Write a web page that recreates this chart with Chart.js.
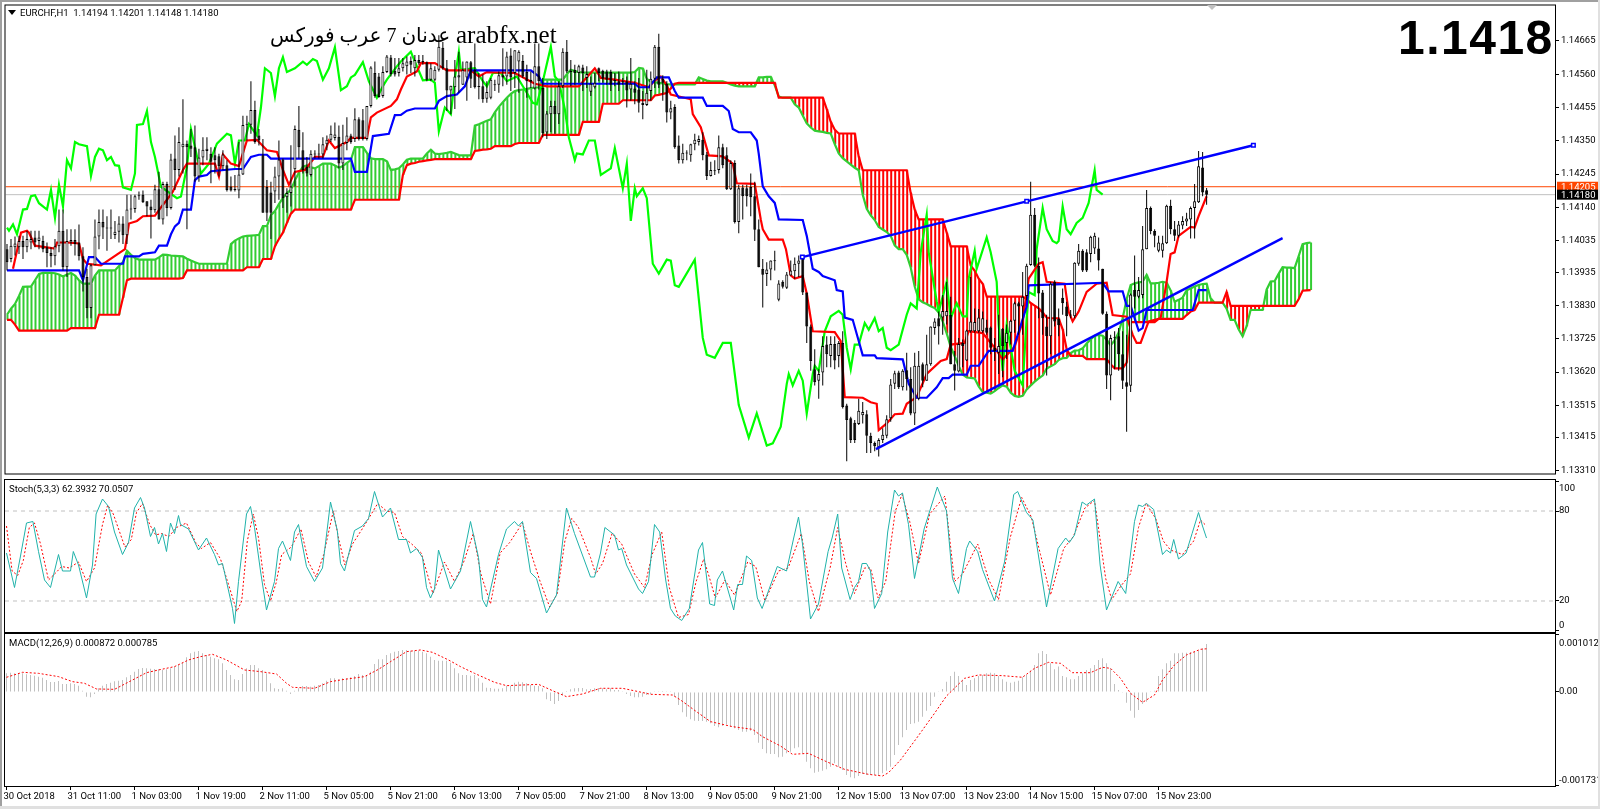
<!DOCTYPE html>
<html lang="en">
<head>
<meta charset="UTF-8">
<title>EURCHF,H1</title>
<script src="https://cdn.jsdelivr.net/npm/chart.js"></script>
<style>
  html, body { margin: 0; padding: 0; background: #fff; }
  body { width: 1600px; height: 809px; position: relative; overflow: hidden; }
  canvas { position: absolute; left: 0; }
  .txt { position: absolute; white-space: pre; color: #000; font: 9.5px Roboto, sans-serif; }
  .chrome { position: absolute; background: #a0a0a0; }
</style>
</head>
<body>
<canvas id="mainChart" width="1600" height="479" style="top:0"></canvas>
<canvas id="stochChart" width="1600" height="154" style="top:479px"></canvas>
<canvas id="macdChart" width="1600" height="176" style="top:633px"></canvas>

<div class="chrome" style="left:0;top:0;width:1600px;height:2px"></div>
<div class="chrome" style="left:0;top:0;width:2px;height:809px"></div>
<div class="chrome" style="left:1598px;top:0;width:2px;height:809px;background:#e0e0e0"></div>
<div class="chrome" style="left:0;top:806px;width:1600px;height:3px;background:#e0e0e0"></div>

<div style="position:absolute;left:8px;top:10px;width:0;height:0;border-left:4px solid transparent;border-right:4px solid transparent;border-top:5px solid #000"></div>
<div class="txt" style="left:20px;top:7px">EURCHF,H1  1.14194 1.14201 1.14148 1.14180</div>
<div class="txt" style="left:270px;top:23px;font:20px 'Liberation Serif','DejaVu Sans',serif" dir="ltr">عدنان 7 عرب فوركس</div>
<div class="txt" style="left:456px;top:21px;font:25px 'Liberation Serif',serif">arabfx.net</div>
<div class="txt" style="left:1398px;top:10px;font:bold 48px 'Liberation Sans',sans-serif;letter-spacing:1.5px">1.1418</div>
<div style="position:absolute;left:1207px;top:5px;width:0;height:0;border-left:5px solid transparent;border-right:5px solid transparent;border-top:5px solid #c0c0c0"></div>
<div class="txt" style="left:9px;top:483px">Stoch(5,3,3) 62.3932 70.0507</div>
<div class="txt" style="left:9px;top:637px">MACD(12,26,9) 0.000872 0.000785</div>

<script>
// prices are stored as points above 1.13000 (1180 = 1.14180)
const BASE = 1.13;

const openPts = [
1008,977,1014,1014,1034,1014,1029,1045,1034,1034,
1014,996,986,1017,1066,951,1029,1037,1029,986,
920,822,957,1048,1094,1076,1073,1053,1063,1089,
1052,1133,1135,1175,1180,1159,1143,1131,1197,1102,
1214,1138,1294,1258,1330,1341,1335,1330,1237,1297,
1318,1309,1304,1301,1270,1273,1206,1195,1193,1244,
1401,1401,1447,1367,1304,1204,1187,1190,1237,1291,
1172,1185,1260,1385,1320,1268,1242,1307,1307,1307,
1339,1353,1359,1363,1278,1343,1367,1356,1418,1415,
1356,1460,1564,1553,1491,1567,1613,1571,1564,1579,
1585,1602,1579,1605,1602,1598,1543,1543,1574,1644,
1579,1509,1519,1550,1527,1550,1598,1574,1522,1522,
1483,1486,1525,1527,1557,1553,1619,1564,1600,1602,
1567,1543,1515,1585,1517,1376,1434,1460,1434,1522,
1631,1571,1574,1564,1581,1548,1505,1519,1579,1571,
1569,1567,1543,1538,1538,1538,1512,1515,1512,1470,
1463,1507,1546,1647,1546,1530,1439,1457,1335,1289,
1312,1304,1339,1346,1353,1307,1239,1256,1258,1330,
1304,1197,1280,1094,1203,1200,1204,1175,1071,946,
930,944,972,848,905,886,925,938,962,977,
871,764,629,593,619,707,671,709,671,712,
515,474,460,456,484,487,419,396,383,406,
419,474,583,619,572,626,598,489,536,645,
593,645,759,790,792,796,801,645,622,712,
657,749,749,749,749,761,761,697,681,757,
712,744,782,837,827,860,958,1117,956,871,
764,733,905,788,855,827,801,796,962,1003,
998,993,1010,1010,946,804,609,727,733,676,
588,577,879,858,863,1008,1138,1065,1003,1003,
1027,1145,1071,1050,1083,1095,1102,1138,1156,1266,
1194];
const highPts = [
1024,1040,1048,1050,1050,1066,1066,1066,1066,1050,
1029,1014,1040,1133,1133,1071,1071,1071,1086,1014,
946,962,1102,1133,1133,1112,1133,1097,1112,1112,
1180,1180,1180,1190,1193,1159,1164,1211,1252,1221,
1221,1309,1367,1393,1481,1351,1387,1398,1325,1361,
1361,1330,1330,1309,1320,1289,1237,1242,1346,1429,
1429,1538,1476,1387,1356,1226,1221,1268,1351,1294,
1200,1336,1398,1460,1377,1299,1320,1320,1341,1361,
1367,1398,1408,1398,1401,1424,1372,1453,1424,1450,
1460,1585,1600,1564,1585,1621,1621,1611,1611,1611,
1616,1616,1621,1621,1621,1600,1595,1585,1683,1662,
1605,1524,1605,1631,1600,1600,1602,1657,1564,1559,
1538,1548,1543,1569,1642,1631,1642,1636,1636,1621,
1590,1569,1657,1657,1548,1444,1476,1476,1538,1642,
1668,1605,1590,1590,1590,1585,1553,1564,1581,1574,
1574,1574,1564,1569,1548,1553,1611,1538,1548,1507,
1574,1569,1652,1688,1557,1538,1476,1465,1367,1341,
1320,1341,1372,1367,1377,1315,1284,1289,1367,1341,
1330,1289,1289,1211,1211,1211,1247,1221,1102,977,
967,972,1003,910,910,936,972,982,988,988,
871,770,692,629,733,733,733,733,718,749,
520,479,469,536,526,500,429,401,411,443,
484,598,624,624,629,681,635,681,687,650,
738,764,790,811,863,905,858,687,728,723,
754,920,821,819,811,785,764,728,801,759,
770,785,842,842,936,962,1221,1138,982,879,
801,905,910,821,884,842,816,967,1024,1008,
1008,1050,1060,1045,946,811,738,749,759,749,
738,868,988,920,1081,1195,1143,1071,1050,1050,
1148,1164,1097,1097,1112,1123,1143,1214,1318,1315,
1201];
const lowPts = [
941,967,988,993,977,998,1008,1014,1008,998,
951,951,957,998,941,920,1019,988,972,874,
790,790,957,1008,1040,1003,1040,1040,1029,1024,
1024,1102,1123,1164,1154,1112,1042,1123,1102,1086,
1112,1133,1195,1237,1247,1071,1299,1221,1221,1273,
1289,1216,1247,1237,1258,1190,1190,1190,1169,1242,
1351,1372,1341,1335,1123,1097,1040,1154,1164,1138,
1123,1143,1206,1294,1247,1237,1237,1294,1294,1294,
1320,1346,1351,1263,1258,1320,1341,1346,1351,1351,
1351,1455,1486,1486,1486,1564,1553,1553,1553,1569,
1559,1564,1553,1590,1590,1538,1538,1538,1569,1574,
1444,1434,1450,1502,1527,1476,1517,1515,1481,1470,
1470,1481,1507,1502,1522,1527,1507,1517,1502,1548,
1486,1517,1512,1512,1361,1356,1377,1372,1403,1517,
1564,1522,1527,1533,1507,1517,1491,1515,1538,1533,
1527,1507,1522,1507,1527,1455,1476,1465,1439,1418,
1460,1476,1517,1517,1476,1408,1418,1325,1278,1278,
1289,1284,1320,1335,1289,1226,1237,1242,1247,1263,
1195,1195,1089,1058,1102,1143,1112,1034,951,824,
892,910,941,844,884,882,925,915,920,863,
712,624,578,536,578,635,635,629,635,505,
339,396,396,453,458,365,365,370,354,396,
411,463,567,567,562,562,484,453,531,572,
593,640,738,707,738,770,645,562,619,635,
655,744,744,744,744,738,676,655,614,604,
661,707,744,738,738,847,956,951,790,738,
609,676,764,733,801,733,790,790,956,936,
936,967,993,941,801,567,531,629,624,567,
432,557,821,853,853,1008,1055,1014,998,982,
1024,1055,1034,1045,1071,1081,1042,1042,1154,1175,
1148];
const closePts = [
967,1019,1026,1034,1014,1040,1040,1029,1045,1008,
996,986,1017,1066,951,1034,1037,1024,986,920,
822,957,1048,1094,1076,1073,1076,1063,1089,1052,
1133,1135,1175,1177,1156,1143,1131,1197,1102,1214,
1138,1291,1258,1346,1341,1330,1325,1237,1297,1322,
1325,1284,1289,1270,1307,1195,1193,1197,1244,1400,
1403,1447,1346,1351,1123,1123,1123,1237,1291,1169,
1185,1206,1387,1330,1258,1247,1309,1309,1309,1339,
1353,1372,1370,1278,1343,1367,1346,1418,1356,1356,
1460,1581,1491,1488,1567,1616,1561,1559,1579,1595,
1600,1590,1605,1595,1598,1543,1579,1574,1647,1579,
1509,1524,1553,1557,1574,1600,1546,1519,1520,1481,
1504,1543,1527,1557,1550,1616,1550,1636,1631,1553,
1538,1536,1585,1538,1374,1436,1460,1434,1522,1631,
1569,1567,1564,1585,1564,1561,1530,1533,1564,1546,
1543,1527,1538,1527,1536,1509,1530,1502,1470,1463,
1502,1546,1647,1527,1533,1439,1453,1330,1289,1312,
1310,1339,1353,1356,1304,1239,1258,1254,1330,1273,
1197,1280,1094,1200,1175,1175,1172,1069,951,927,
944,972,970,900,889,928,941,962,972,871,
764,655,588,614,702,676,709,657,712,510,
469,406,406,498,494,419,396,386,406,422,
471,581,616,572,624,598,489,640,640,593,
645,764,780,764,813,813,645,624,709,702,
751,780,778,792,790,744,697,687,702,702,
744,782,837,827,858,956,1117,956,868,790,
733,899,780,768,837,796,799,965,1003,941,
941,1047,1050,972,804,609,728,729,676,593,
574,865,858,879,1008,1138,1065,1050,1029,1027,
1145,1071,1050,1086,1097,1105,1138,1159,1270,1187,
1180];

// ichimoku cloud, one value per bar incl. the 26 bars shifted ahead
const senkouA = [
801,820,835,860,889,890,890,910,930,933,
933,933,932,928,922,928,933,925,910,899,
899,899,925,941,941,941,941,941,955,967,
1003,990,980,975,975,975,975,975,982,991,
990,988,987,986,985,978,972,967,962,962,
962,962,962,962,962,962,1024,1035,1042,1048,
1050,1051,1052,1053,1081,1081,1115,1128,1150,1170,
1185,1195,1225,1250,1268,1272,1266,1263,1270,1278,
1278,1278,1272,1265,1270,1280,1289,1330,1330,1330,
1312,1295,1292,1292,1292,1285,1258,1260,1263,1275,
1290,1294,1294,1294,1294,1310,1322,1310,1308,1310,
1312,1315,1310,1305,1304,1304,1304,1398,1402,1408,
1413,1418,1440,1457,1472,1486,1498,1507,1510,1512,
1514,1516,1518,1519,1543,1543,1543,1543,1543,1543,
1560,1574,1570,1567,1565,1565,1565,1565,1565,1565,
1565,1565,1565,1565,1565,1565,1565,1567,1580,1578,
1545,1537,1535,1533,1531,1529,1528,1528,1528,1528,
1528,1528,1528,1550,1545,1540,1538,1538,1538,1538,
1533,1528,1524,1522,1522,1522,1522,1522,1550,1550,
1552,1552,1525,1490,1486,1486,1486,1465,1455,1430,
1405,1392,1382,1380,1378,1375,1373,1340,1310,1295,
1285,1275,1265,1257,1180,1135,1115,1100,1078,1070,
1062,1050,1020,1008,1008,990,950,890,850,840,
835,828,822,808,780,742,700,670,640,612,
603,602,600,575,557,555,552,560,570,578,
574,555,545,542,545,565,578,590,600,609,
631,638,645,658,664,665,680,688,689,695,
710,723,735,737,735,722,704,720,745,790,
850,895,900,903,905,927,900,900,902,905,
902,878,842,848,855,878,884,890,895,898,
899,853,839,839,839,820,785,785,755,733,
765,816,816,816,816,880,906,907,930,951,
950,950,948,985,1024,1027,1029];
const senkouB = [
785,785,770,751,751,751,751,751,751,751,
751,751,751,751,751,751,759,759,759,759,
759,759,759,801,801,801,801,801,801,855,
910,915,915,915,915,915,915,915,915,915,
915,915,915,915,917,941,941,941,941,941,
941,941,941,941,941,941,941,941,941,941,
951,951,951,951,977,977,977,1017,1040,1060,
1091,1120,1133,1133,1133,1133,1133,1133,1133,1133,
1133,1133,1133,1133,1133,1133,1133,1164,1164,1164,
1164,1164,1164,1164,1164,1164,1164,1164,1164,1242,
1273,1278,1280,1284,1286,1288,1290,1292,1292,1292,
1292,1292,1292,1292,1292,1292,1292,1318,1320,1322,
1323,1325,1333,1333,1333,1333,1333,1340,1343,1343,
1343,1343,1343,1343,1369,1369,1369,1369,1369,1369,
1369,1369,1369,1369,1410,1410,1410,1410,1410,1467,
1467,1467,1467,1467,1478,1478,1478,1478,1478,1478,
1478,1478,1493,1495,1498,1501,1515,1530,1533,1533,
1533,1533,1533,1533,1533,1533,1533,1533,1533,1533,
1533,1533,1533,1533,1533,1533,1533,1533,1533,1533,
1533,1533,1533,1486,1486,1486,1486,1486,1486,1486,
1486,1486,1486,1486,1486,1450,1410,1385,1373,1373,
1373,1373,1373,1300,1257,1257,1257,1257,1257,1257,
1257,1257,1257,1257,1257,1257,1185,1133,1102,1102,
1102,1102,1102,1102,1102,1060,1017,1017,1017,1017,
1017,956,940,915,899,858,858,858,858,858,
858,858,858,858,858,850,838,830,821,808,
792,790,790,790,755,692,671,671,671,671,
661,661,661,661,661,661,645,632,632,632,
650,778,778,778,778,778,778,778,788,788,
788,788,788,788,788,800,811,816,839,839,
839,839,839,839,839,873,829,829,829,829,
829,829,829,829,829,829,829,829,829,829,
829,829,829,850,877,878,879];

// ichimoku lines, read as vertices: bar index / points
const tenkanX = [1.5,3.5,5,5.5,7,12,12.5,15,18,19,20,23.5,29.5,30.5,32.5,34,37,38.5,40,41.5,44,45,52,53,54,56,58,60,62.5,65,67.5,69,70.5,72,74.5,77,79,80.5,82,85,86,90,91,92.5,96,97.5,98.5,100,102.5,103.5,107,110,116,118,120,127,132,135,143,147,148.5,152,157,160.5,162,163.5,165,166,171,171.5,173.5,175.5,179,181.5,182.5,187,188.5,189,190.5,194,194.8,196,197,199,200,201.5,207,208.5,209.5,214,216,217.5,218,220,222,224,225,227.5,230,233.5,235,236,239.5,240.5,244,247,249,252,254,255.5,258,259,260,264.5,265.5,266.5,268,270,272.5,275,276.5,280,281.5,282.5,283.5,285.5,288.5,290,291,292,293,296,297,298,300];
const tenkanY = [946,1060,1066,1060,1019,1010,1029,1029,1026,977,962,957,1008,1089,1097,1112,1114,1140,1164,1190,1258,1278,1278,1237,1307,1278,1270,1351,1353,1320,1315,1258,1211,1252,1258,1299,1299,1351,1327,1346,1359,1359,1424,1439,1460,1481,1512,1553,1569,1595,1595,1572,1572,1553,1567,1564,1530,1522,1522,1579,1548,1543,1533,1519,1540,1553,1525,1496,1481,1434,1393,1304,1301,1278,1216,1214,1102,1071,1038,1038,1008,925,915,923,868,749,746,718,541,539,525,520,437,458,487,489,520,541,614,655,661,707,712,749,743,697,660,700,780,915,962,967,905,899,811,780,811,873,899,902,800,795,738,712,712,780,790,905,993,998,1050,1078,1076,1112,1175,1182];
const kijunX = [0,18,19,20.5,22,23.5,29,29.5,33,34,37,38,40,41,42,43,44,46,47,48,50,51,57,59,61,63,65,66,86,87,90,91.5,95.5,97,98.5,100,102,107,108,110,112.5,114.5,116,131,133,134,157,158,160.5,162.5,165.5,167,168,174,175,179,180.5,181.5,183,186,187.5,188,189,190.5,192,193,199,200,201.5,203,204,207,207.5,209,209.5,211.5,213,214,217,217.5,224,225.5,227.5,230,232.5,234,235.5,236.5,240,241,243,245.5,251.5,255,255.5,274,275.5,279,280,281,283,284,285,296.5,298,300];
const kijunY = [941,941,910,983,983,962,962,985,985,993,998,1019,1019,1055,1080,1091,1133,1133,1226,1237,1242,1254,1261,1261,1299,1306,1306,1294,1294,1252,1252,1365,1372,1431,1432,1445,1452,1452,1476,1491,1496,1522,1572,1572,1553,1530,1530,1519,1519,1550,1550,1507,1486,1486,1460,1460,1444,1387,1377,1377,1351,1309,1206,1175,1154,1102,1100,1050,946,936,923,910,879,875,792,785,718,673,673,664,660,583,539,539,572,601,601,612,612,640,640,687,687,827,894,902,875,875,829,829,751,759,816,816,879,879];
const chikouX = [0,0.5,1.5,2.5,4,5,6,7,8,10,11,12,13,14,15,16,17,18,20,21,22,23,24,25,26,27,28,29,31,32,32.5,34,35,36,37,38.5,42.5,43.5,45,46,47,48.5,50.5,52.5,55,56,57,58,59.5,60.5,62.5,63.5,64.5,66,67,68,69,70,72,74,75,76.5,77.5,79,80.5,82,83.5,85,86,87,89,90.5,92.5,94,95,97.5,98.5,101,102,104,106,107,108,109.5,111,112,113,113.5,117,119,120,121.5,123.5,125,127.5,129.5,131.5,132.5,134,136,137,138,139.5,140.5,142,142.5,144,145.5,147,148.5,151,152,154,155,156,157,157.5,159,160,161.5,163,165,166,167,168,172,174,175,177,179,181,183,185.5,187.5,190,191.5,193.5,195,195.5,196.5,198,199,200,200.5,201.5,202,203,204.5,206,208,209,210,211,212,213,214.5,215.5,217,218,219,220,221,223,225,226,227.5,228.5,230,230.5,232.5,233,235,236,237.5,239,240,240.5,242,242.5,245,246,247.5,248,249,250,252,254,255,255.5,257,257.5,259,260,261.5,262.5,263,264,265,266,267.5,269,270.5,272,272.5,274];
const chikouY = [1076,1066,1086,1055,1133,1135,1175,1178,1153,1133,1195,1107,1211,1143,1289,1263,1346,1339,1333,1239,1299,1325,1320,1289,1299,1273,1271,1203,1195,1247,1400,1403,1444,1346,1299,1205,1169,1174,1268,1387,1330,1247,1278,1341,1372,1367,1278,1351,1351,1403,1367,1455,1579,1564,1491,1579,1614,1567,1579,1600,1590,1608,1602,1543,1579,1645,1510,1522,1550,1558,1598,1538,1486,1522,1543,1585,1600,1631,1600,1541,1543,1533,1380,1455,1434,1548,1631,1574,1579,1538,1522,1564,1564,1538,1553,1512,1470,1465,1538,1647,1553,1538,1450,1361,1289,1310,1307,1351,1351,1242,1263,1327,1200,1278,1097,1200,1175,1200,1169,962,931,975,972,894,889,975,728,675,665,712,712,516,413,490,388,395,448,583,614,578,624,593,489,531,614,640,624,749,796,813,801,697,629,707,707,775,754,790,749,759,697,689,707,801,837,821,998,1117,998,842,811,905,790,837,796,796,915,1003,946,1045,998,905,770,624,770,624,578,790,873,863,1008,1138,1071,1034,1027,1034,1143,1071,1055,1091,1107,1154,1257,1195,1180];

// trendlines, bar index / points
const upperTrendX = [198.9, 255, 311.7];
const upperTrendY = [983, 1159, 1336];
const lowerTrendX = [217.3, 319];
const lowerTrendY = [377, 1043];

const askPrice = 1.14205;
const bidPrice = 1.14180;
const priceTicks = [1.14665,1.14560,1.14455,1.14350,1.14245,1.14140,1.14035,1.13935,1.13830,1.13725,1.13620,1.13515,1.13415,1.13310];

const stochMainX = [0,2,3.5,5,6.6,8,9.5,11,13,14,16,16.7,18,20,21.5,22.4,24,25.5,27,29,30.5,32,33.5,34.5,36,37,38,39,40,41,42,43,43.5,45.5,48,50,52,53,54,55,56.5,57,58,60,61,62,63.5,65,67,68,69,71,72,73,75,77,79,81,82.7,83.5,84.5,87,89,90.5,92,94,96,98,100,101,102.5,104,105,106,107,108,111,113.5,116,118,119,120,123,125,127,128,129,131,132.5,135,137.5,140,142,146,147,148.5,149.6,152,153,153.8,155,158,159,160.5,162,163.3,164.8,166,167.2,168.8,170.7,173,174,175.8,177,177.7,179,181.8,182.8,184,185,186.3,187.7,188.9,192.7,195,196.8,198,199,201,203,205.4,206.4,207.8,208.8,210.9,212,213,213.9,215,216,217,218.8,220.3,222,223,224,225.5,227,229.4,232.7,235,236.5,238,240,240.8,242.8,244,247,249.5,251.8,252.8,255,256.6,260,262.9,264.8,265.7,267,268.9,270,272,273.4,275,277.9,279.8,282,283,284,285,286.8,289,290,291,291.8,293,294.9,296.4,298,299,300];
const stochMainY = [52,29,50,72,73,53,34,29,51,40,40,53,44,22,44,78,88,83,66,51,59,82,89,82,63,69,58,65,53,72,65,77,71,68,54,62,51,44,45,33,15,5,33,78,83,69,40,14,33,55,60,47,66,71,43,33,42,86,67,45,40,67,70,75,93,76,82,61,61,52,55,49,29,22,28,54,28,40,73,49,21,16,51,68,73,70,73,39,35,12,24,82,65,36,36,52,69,64,54,55,44,28,25,33,71,66,34,15,10,7,15,54,59,18,17,34,40,14,31,31,50,47,22,15,43,40,62,76,58,8,18,53,62,78,42,21,29,33,45,45,40,15,25,66,94,90,92,71,35,68,96,80,35,25,55,60,53,41,20,46,91,93,79,74,16,55,62,59,64,86,84,88,44,14,33,25,73,84,83,85,81,51,54,52,61,48,52,65,79,70,62];
const stochSigX = [0,1.4,2.8,4.2,5.7,7,8.5,10.5,12.4,13.8,15.7,18,20,22,24,25.3,26.7,29.6,31.2,32.5,34,35.8,37.3,38.7,40.6,42.5,45,47.3,48.7,51,53.5,55.5,57.6,58.8,60.2,61.7,63,64.5,66,67.4,68.8,71.2,73.6,75.5,77.4,79.3,81.7,83,84.6,86.5,89.4,92.8,95,97,99,101.3,103.7,106.6,109.5,112,114.3,116.7,118.6,121,123.4,125.8,129,131,133.4,135.8,137.7,139.6,141.3,143,146,147.3,149,151.4,153.8,157,159.5,161.4,163.8,165.7,168,170.5,172.4,174.3,175.8,177.2,179.6,182,185.3,187.3,189.6,193,195.4,198.7,200.7,203,205.9,207.8,209.7,212,214.5,216,217.9,219.8,222.2,223.9,225.8,228,230.8,234.6,237,239,242.8,245.6,248,250.9,253.8,256.2,258.5,261,264.3,266.7,269.6,272,274.8,276.3,278.6,281,283,284.9,287.3,289.2,291,294,296.8,298.5,300];
const stochSigY = [70,40,37,47,69,72,58,34,39,43,42,46,33,42,71,84,78,56,61,79,85,71,64,65,63,69,72,59,55,59,48,31,13,20,60,78,62,31,20,32,51,56,68,46,36,51,80,62,44,58,70,85,80,79,63,58,52,25,46,33,46,65,38,18,52,59,72,53,33,16,25,60,75,69,49,38,45,65,58,38,29,51,66,29,9,11,33,48,35,22,34,24,46,43,20,40,42,65,33,13,42,69,46,25,42,42,22,33,80,91,73,45,78,90,33,38,58,34,21,62,89,76,51,24,55,63,82,87,35,21,30,38,69,85,75,60,54,51,60,74,70];
const stochLevels = [80, 20];
const stochTicks = [100, 80, 20, 0];

// MACD values in millionths
const macdHist = [
339,351,339,339,339,321,309,297,279,261,
218,182,182,200,145,145,158,145,115,24,
-85,-97,-36,67,115,145,170,194,206,218,
267,309,370,418,436,430,424,418,412,400,
412,430,461,491,533,630,703,733,745,703,
673,642,612,594,521,400,309,230,218,327,
430,491,491,430,400,339,158,67,55,67,
24,-36,24,67,109,109,97,115,127,158,
206,248,248,230,248,248,267,291,327,309,
309,370,509,594,594,673,703,733,745,764,
764,751,751,751,733,703,642,582,570,570,
570,533,430,339,309,309,297,309,248,170,
79,73,61,61,67,115,115,170,188,176,
158,127,115,109,67,-133,-164,-218,-164,-55,
18,48,67,73,73,48,55,67,73,67,
48,67,36,36,6,-36,-73,-97,-97,-85,
-55,-36,6,12,18,12,6,-85,-236,-370,
-448,-497,-521,-527,-527,-539,-570,-618,-642,-618,
-588,-630,-661,-691,-721,-721,-703,-782,-921,-1036,
-1115,-1127,-1127,-1188,-1176,-1115,-1085,-1024,-1006,-1115,
-1267,-1388,-1467,-1448,-1430,-1406,-1357,-1297,-1357,-1418,
-1509,-1551,-1570,-1527,-1491,-1509,-1509,-1509,-1527,-1479,
-1430,-1357,-1145,-964,-824,-691,-582,-570,-539,-448,
-339,-255,-85,6,55,188,291,370,291,218,
127,218,248,291,309,339,351,339,291,230,
188,170,188,206,267,309,388,491,703,745,
691,521,412,461,291,267,230,230,291,339,
400,430,491,582,612,521,430,145,36,-12,
-194,-339,-467,-327,-218,-176,6,24,291,412,
521,570,703,703,715,715,727,733,751,794,872];
const macdSigX = [0,4,8,13,16.5,19.5,22.5,27,31.5,35,38,42,45.5,48.5,51.5,55,59.5,63.5,67.5,70,71.5,77,81,84.5,89.5,93,96,100,103.5,106.5,110.5,113.5,117,122,125,133,136.5,140,144,148.5,154,158,161,166.5,168.5,172.5,176,181.5,186.5,189,193.5,196.5,200.5,205,209.5,215.5,219,220.5,223.5,227.5,232,235,239.5,243,249,254,257,260.5,263.5,266.5,271,274,276,278.5,281,284,287,289,292,295,298.5,300];
const macdSigY = [267,358,339,279,188,158,55,48,218,351,400,461,582,642,685,582,400,370,327,158,85,67,188,230,279,412,551,733,764,721,582,461,339,176,115,139,24,-85,-36,67,67,6,-42,-55,-145,-358,-539,-630,-679,-812,-982,-1133,-1115,-1267,-1406,-1497,-1527,-1467,-1236,-842,-388,-73,248,309,297,267,430,539,521,351,351,448,430,248,-24,-188,-55,218,491,673,776,785];

const timeLabels = ['30 Oct 2018','31 Oct 11:00','1 Nov 03:00','1 Nov 19:00','2 Nov 11:00','5 Nov 05:00','5 Nov 21:00','6 Nov 13:00','7 Nov 05:00','7 Nov 21:00','8 Nov 13:00','9 Nov 05:00','9 Nov 21:00','12 Nov 15:00','13 Nov 07:00','13 Nov 23:00','14 Nov 15:00','15 Nov 07:00','15 Nov 23:00'];
const barsPerLabel = 16;

const price = p => BASE + p / 100000;
const line = (xs, ys, conv) => xs.map((x, i) => ({ x: x, y: conv(ys[i]) }));
const FONT = { family: 'Roboto', size: 9.5 };
const X_MIN = -0.375, X_MAX = 387.125;

const framePlugin = {
  id: 'frame',
  afterDraw(chart) {
    const a = chart.chartArea, c = chart.ctx;
    c.save();
    c.strokeStyle = '#000';
    c.lineWidth = 1;
    c.strokeRect(a.left - 0.5, a.top - 0.5, a.right - a.left + 1, a.bottom - a.top + 1);
    c.restore();
  }
};

// labels MT4 keeps inside the pane: { text, y }, plus the ask/bid flags on the main pane
const sideLabelPlugin = {
  id: 'sideLabels',
  afterDraw(chart, args, opts) {
    const c = chart.ctx, left = chart.chartArea.right;
    c.save();
    c.font = '9.5px Roboto';
    c.textBaseline = 'middle';
    (opts.items || []).forEach(it => {
      const yp = it.value !== undefined ? chart.scales.y.getPixelForValue(it.value) : it.y;
      if (it.bg) {
        c.fillStyle = it.bg;
        c.fillRect(left + 2, yp - 5, 41, 10);
      }
      c.fillStyle = it.color || '#000';
      c.fillText(it.text, left + (it.bg ? 6 : 4), yp + 0.5);
    });
    c.restore();
  }
};

function xScale(showLabels) {
  return {
    type: 'linear', min: X_MIN, max: X_MAX, display: showLabels, offset: false,
    afterBuildTicks: s => { s.ticks = timeLabels.map((l, k) => ({ value: k * barsPerLabel })); },
    afterFit: s => { if (showLabels) s.height = 23; s.paddingLeft = 0; s.paddingRight = 0; },
    grid: { drawOnChartArea: false, color: '#000', tickLength: 4, offset: false },
    border: { display: false },
    ticks: {
      autoSkip: false, maxRotation: 0, align: 'start', font: FONT, color: '#000', padding: 1, labelOffset: -3,
      callback: v => timeLabels[v / barsPerLabel]
    }
  };
}

function yScale(min, max, tickVals, fmt, pad) {
  return {
    position: 'right', min: min, max: max,
    afterFit: s => { s.width = 45; s.paddingTop = 0; s.paddingBottom = 0; },
    afterBuildTicks: s => { s.ticks = tickVals.map(v => ({ value: v })); },
    grid: { drawOnChartArea: false, color: '#000', tickLength: 4 },
    border: { display: false },
    ticks: { autoSkip: false, font: FONT, color: '#000', padding: pad, callback: fmt }
  };
}

const baseOptions = {
  responsive: false, animation: false, events: [],
  plugins: { legend: { display: false }, tooltip: { enabled: false } }
};

const bars = n => Array.from({ length: n }, (_, i) => i);
const lineDs = (data, color, width, order, extra) => Object.assign(
  { type: 'line', data: data, borderColor: color, borderWidth: width, pointRadius: 0, tension: 0, order: order }, extra || {});

new Chart(document.getElementById('mainChart'), {
  data: {
    datasets: [
      lineDs(line(upperTrendX, upperTrendY, price), '#0000ff', 2.4, 0, {
        pointRadius: 2.5, pointStyle: 'rect', pointBackgroundColor: '#fff', pointBorderColor: '#0000ff', pointBorderWidth: 1.5
      }),
      lineDs(line(lowerTrendX, lowerTrendY, price), '#0000ff', 2.4, 0),
      { type: 'bar', order: 1, grouped: false, barThickness: 3, minBarLength: 1,
        borderWidth: 1, borderColor: '#000', borderSkipped: false, inflateAmount: 0,
        backgroundColor: closePts.map((c, i) => c > openPts[i] ? '#fff' : '#000'),
        data: closePts.map((c, i) => ({ x: i, y: [price(openPts[i]), price(c)] })) },
      { type: 'bar', order: 2, grouped: false, barThickness: 1, inflateAmount: 0, backgroundColor: '#000',
        data: highPts.map((h, i) => ({ x: i, y: [price(lowPts[i]), price(h)] })) },
      lineDs(line(kijunX, kijunY, price), '#0000ff', 2.2, 3),
      lineDs(line(tenkanX, tenkanY, price), '#ff0000', 2.2, 4),
      lineDs(line(chikouX, chikouY, price), '#00ff00', 2.2, 5),
      lineDs(line(bars(327), senkouB, price), '#ff0000', 2.2, 6),
      lineDs(line(bars(327), senkouA, price), '#32cd32', 2.2, 7),
      // x nudged an eighth of a bar so the 2px stripe lands on whole pixels
      { type: 'bar', order: 8, grouped: false, barThickness: 2, inflateAmount: 0,
        backgroundColor: senkouA.map((a, i) => a >= senkouB[i] ? '#32cd32' : '#ff0000'),
        data: senkouA.map((a, i) => ({ x: i + 0.125, y: [price(a), price(senkouB[i])] })) },
      lineDs([{ x: X_MIN, y: askPrice }, { x: X_MAX, y: askPrice }], '#ff4500', 1, 9),
      lineDs([{ x: X_MIN, y: bidPrice }, { x: X_MAX, y: bidPrice }], '#c0c0c0', 1, 9)
    ]
  },
  options: Object.assign({}, baseOptions, {
    layout: { padding: { left: 5, right: 0, top: 4, bottom: 1 } },
    scales: { x: xScale(false), y: yScale(1.133, 1.14777, priceTicks, v => v.toFixed(5), 2) },
    plugins: Object.assign({}, baseOptions.plugins, {
      sideLabels: { items: [
        { text: askPrice.toFixed(5), value: askPrice, bg: '#ff4500', color: '#fff' },
        { text: bidPrice.toFixed(5), value: bidPrice, bg: '#000', color: '#fff' }
      ] }
    })
  }),
  plugins: [framePlugin, sideLabelPlugin]
});

new Chart(document.getElementById('stochChart'), {
  data: {
    datasets: [
      lineDs(line(stochMainX, stochMainY, v => v), '#20b2aa', 1, 0),
      lineDs(line(stochSigX, stochSigY, v => v), '#ff0000', 1, 1, { borderDash: [2, 2] }),
      lineDs([{ x: X_MIN, y: stochLevels[0] }, { x: X_MAX, y: stochLevels[0] }], '#c0c0c0', 1, 2, { borderDash: [4, 4] }),
      lineDs([{ x: X_MIN, y: stochLevels[1] }, { x: X_MAX, y: stochLevels[1] }], '#c0c0c0', 1, 2, { borderDash: [4, 4] })
    ]
  },
  options: Object.assign({}, baseOptions, {
    layout: { padding: { left: 5, right: 0, top: 1, bottom: 1 } },
    scales: { x: xScale(false), y: yScale(-0.67, 100.67, stochTicks, v => (v === 80 || v === 20) ? String(v) : '', 0) },
    plugins: Object.assign({}, baseOptions.plugins, {
      sideLabels: { items: [{ text: '100', y: 9 }, { text: '0', y: 146 }] }
    })
  }),
  plugins: [framePlugin, sideLabelPlugin]
});

new Chart(document.getElementById('macdChart'), {
  data: {
    datasets: [
      lineDs(line(macdSigX, macdSigY, v => v / 1e6), '#ff0000', 1, 0, { borderDash: [2, 2] }),
      { type: 'bar', order: 1, grouped: false, barThickness: 1, inflateAmount: 0, backgroundColor: '#c0c0c0',
        data: macdHist.map((v, i) => ({ x: i, y: [0, v / 1e6] })) }
    ]
  },
  options: Object.assign({}, baseOptions, {
    layout: { padding: { left: 5, right: 0, top: 1, bottom: 0 } },
    scales: { x: xScale(true), y: yScale(-0.001709, 0.001054, [0.00104, 0, -0.0017], v => v === 0 ? '0.00' : '', 0) },
    plugins: Object.assign({}, baseOptions.plugins, {
      sideLabels: { items: [{ text: '0.001012', y: 10 }, { text: '-0.001731', y: 147 }] }
    })
  }),
  plugins: [framePlugin, sideLabelPlugin]
});
</script>
</body>
</html>
